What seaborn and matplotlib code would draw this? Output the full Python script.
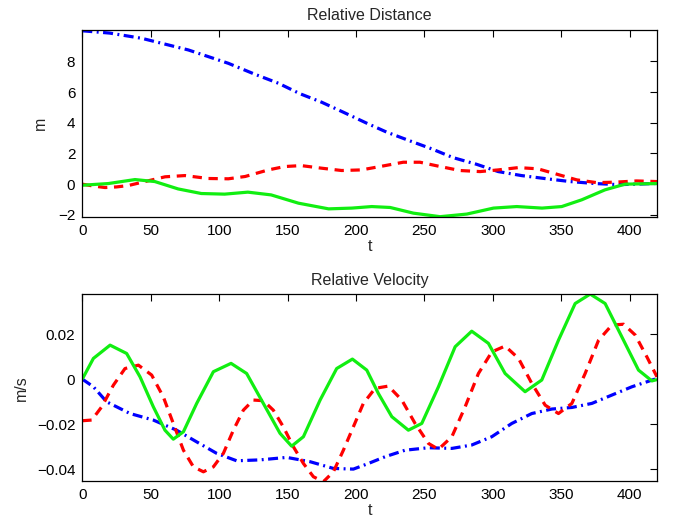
import matplotlib
matplotlib.use("Agg")
import matplotlib.pyplot as plt
import seaborn as sns

# ---------------- data ----------------
# Relative Distance
dist_blue_t = [0, 20, 43.4, 77.5, 106.7, 126, 143.3, 159, 175, 190.8, 208, 222.5, 239.5,
               255.4, 271, 288, 304, 321, 339.5, 356.5, 374.8, 392, 405, 420]
dist_blue_y = [10.0, 9.85, 9.51, 8.75, 7.88, 7.17, 6.58, 5.9, 5.34, 4.69, 3.97, 3.39, 2.82,
               2.3, 1.73, 1.3, 0.82, 0.56, 0.35, 0.17, 0.04, -0.03, 0.0, 0.05]

dist_red_t = [0, 8, 16.6, 25, 33.6, 45.8, 60.5, 75, 92, 106.7, 119, 136, 148, 160, 175,
              189.6, 204, 217.6, 234.6, 246.8, 261.5, 276, 290.7, 304, 318.7, 333, 346.8,
              361.4, 376, 389.4, 405, 420]
dist_red_y = [0.0, -0.12, -0.22, -0.18, -0.09, 0.17, 0.48, 0.56, 0.37, 0.35, 0.5, 0.93,
              1.15, 1.21, 1.04, 0.89, 0.93, 1.15, 1.43, 1.43, 1.15, 0.89, 0.82, 0.93, 1.08,
              1.0, 0.65, 0.28, 0.1, 0.13, 0.21, 0.17]

dist_green_t = [0, 19, 38.5, 53, 70, 87, 104, 121, 138, 158, 180, 197, 211.5, 225, 242,
                261.5, 281, 300.5, 317.5, 336, 350.4, 365, 382, 396.7, 420]
dist_green_y = [-0.07, 0.04, 0.3, 0.17, -0.31, -0.61, -0.65, -0.52, -0.7, -1.24, -1.61,
                -1.56, -1.46, -1.52, -1.89, -2.12, -1.95, -1.56, -1.46, -1.56, -1.46, -1.02,
                -0.37, 0.0, 0.04]

# Relative Velocity
vel_green_t = [0, 8.1, 20.3, 32.4, 42.2, 51.9, 60.4, 66.5, 73.9, 83.6, 95.8, 108.7, 120.1,
               132.3, 144.5, 153, 161.6, 173.8, 185.9, 197.4, 207.9, 216.4, 226.2, 238.3,
               248.1, 260.3, 272.5, 284.6, 296.8, 309, 323.6, 335.8, 348, 360.2, 371.2,
               382.1, 394.3, 406.5, 416.3, 420]
vel_green_y = [0.0, 0.0092, 0.0151, 0.0114, 0.001, -0.0123, -0.0227, -0.0267, -0.0234,
               -0.0108, 0.0033, 0.007, 0.0025, -0.0108, -0.0241, -0.0298, -0.0256, -0.0093,
               0.0047, 0.0089, 0.004, -0.0064, -0.0167, -0.0227, -0.0197, -0.0034, 0.0144,
               0.0213, 0.0159, 0.0025, -0.0056, -0.0004, 0.0173, 0.0336, 0.0378, 0.0336,
               0.0188, 0.004, -0.0008, -0.0002]

vel_red_t = [0, 6.9, 14.2, 22.7, 31.2, 41, 50.7, 59.2, 66.5, 73.9, 81.2, 88.5, 95.8, 103.1,
             110.4, 117.7, 125, 132.3, 139.6, 146.9, 154.3, 161.6, 168.9, 176.2, 183.5,
             190.8, 198.1, 205.4, 214, 223.7, 233.5, 243.2, 253, 260.3, 270.1, 279.8, 289.5,
             299.3, 309, 318.8, 328.5, 338.3, 348, 357.8, 367.5, 377.3, 387, 395.6, 404.1,
             412.6, 420]
vel_red_y = [-0.0185, -0.0182, -0.0123, -0.0027, 0.0047, 0.0062, 0.0018, -0.0079, -0.0197,
             -0.0316, -0.039, -0.0412, -0.039, -0.033, -0.0227, -0.0138, -0.0093, -0.0096,
             -0.0138, -0.0212, -0.0301, -0.0375, -0.0434, -0.0456, -0.0412, -0.0316,
             -0.0212, -0.0108, -0.0041, -0.0031, -0.0093, -0.0197, -0.0286, -0.0312,
             -0.0256, -0.0123, 0.0025, 0.0121, 0.0147, 0.0092, -0.0019, -0.0116, -0.0153,
             -0.0108, 0.0025, 0.0173, 0.024, 0.0244, 0.0196, 0.0099, 0.001]

vel_blue_t = [0, 8.1, 17.8, 34.9, 51.9, 68.9, 83.6, 98.2, 112.8, 129.9, 149.4, 166.4, 183.5,
              198.1, 209.1, 221.3, 235.9, 253, 270.1, 284.6, 299.3, 313.9, 328.5, 343.2,
              357.8, 372.4, 387, 401.7, 420]
vel_blue_y = [0.0, -0.0034, -0.0101, -0.0153, -0.0182, -0.0227, -0.0279, -0.033, -0.0363,
              -0.0359, -0.0348, -0.0367, -0.0397, -0.04, -0.0375, -0.0345, -0.0316, -0.0305,
              -0.0308, -0.0293, -0.0256, -0.0197, -0.0153, -0.0133, -0.0126, -0.0108,
              -0.0071, -0.0034, 0.0003]

x_ticks = [0, 50, 100, 150, 200, 250, 300, 350, 400]
dist_yticks = [-2, 0, 2, 4, 6, 8]
dist_yticklabels = ["\u22122", "0", "2", "4", "6", "8"]
vel_yticks = [-0.04, -0.02, 0, 0.02]
vel_yticklabels = ["\u22120.04", "\u22120.02", "0", "0.02"]

# ---------------- style ----------------
sns.set_style("white")
plt.rcParams["font.family"] = ["Liberation Sans", "DejaVu Sans"]
plt.rcParams["lines.scale_dashes"] = False

BLUE = "#0000ff"
RED = "#ff0000"
GREEN = "#11ee11"
LW = 2.3

fig = plt.figure(figsize=(6.73, 5.22), dpi=100)
ax1 = fig.add_axes([0.1223, 0.5849, 0.8539, 0.3576])
ax2 = fig.add_axes([0.1223, 0.0785, 0.8539, 0.3577])


def draw(ax, series):
    for t, y, color, dash in series:
        sns.lineplot(x=t, y=y, ax=ax, color=color, linewidth=LW, sort=False,
                     estimator=None, legend=False)
        line = ax.get_lines()[-1]
        if dash is not None:
            line.set_dashes(dash)
        line.set_solid_capstyle("butt")
        line.set_dash_capstyle("butt")
        line.set_solid_joinstyle("round")


draw(ax1, [
    (dist_blue_t, dist_blue_y, BLUE, (7.2, 3.2, 1.4, 3.2)),
    (dist_red_t, dist_red_y, RED, (6.7, 4.8)),
    (dist_green_t, dist_green_y, GREEN, None),
])
draw(ax2, [
    (vel_blue_t, vel_blue_y, BLUE, (7.2, 3.2, 1.4, 3.2)),
    (vel_red_t, vel_red_y, RED, (6.7, 4.8)),
    (vel_green_t, vel_green_y, GREEN, None),
])

for ax in (ax1, ax2):
    ax.set_xlim(0, 420)
    ax.set_xticks(x_ticks)
    ax.tick_params(direction="in", length=5, width=0.8, top=True, right=True,
                   labelsize=11, colors="black", pad=5)
    for s in ax.spines.values():
        s.set_color("black")
        s.set_linewidth(0.9)
        s.set_visible(True)
    ax.set_xlabel("t", fontsize=11.5, labelpad=1)

ax1.set_ylim(-2.12, 10.05)
ax1.set_yticks(dist_yticks)
ax1.set_yticklabels(dist_yticklabels)
ax1.set_ylabel("m", fontsize=11.5, labelpad=7)
ax1.set_title("Relative Distance", fontsize=11.5, pad=7)

ax2.set_ylim(-0.0453, 0.0377)
ax2.set_yticks(vel_yticks)
ax2.set_yticklabels(vel_yticklabels)
ax2.set_ylabel("m/s", fontsize=11.5, labelpad=6)
ax2.set_title("Relative Velocity", fontsize=11.5, pad=7)

fig.savefig("out.png", dpi=100)
